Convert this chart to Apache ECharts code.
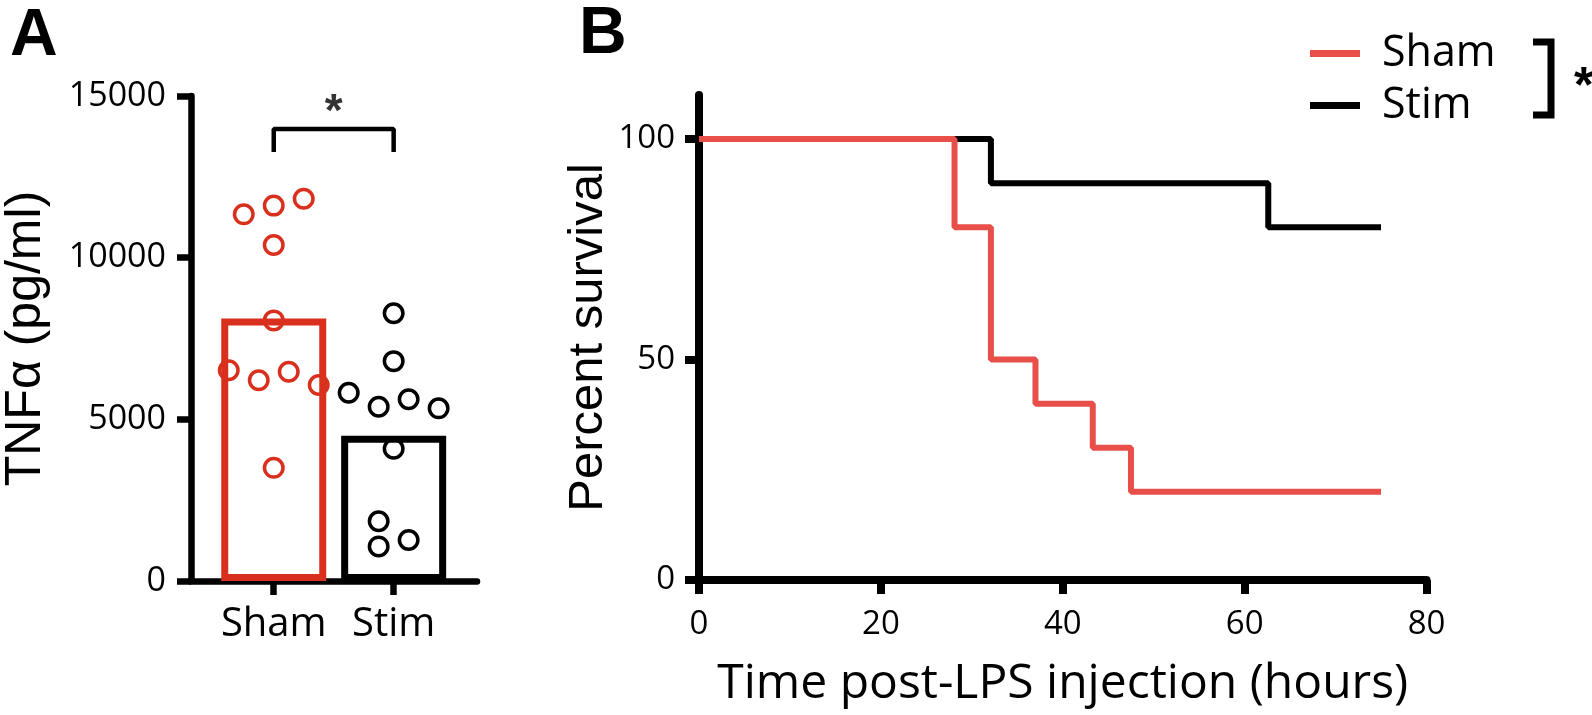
<!DOCTYPE html>
<html>
<head>
<meta charset="utf-8">
<script src="https://cdn.jsdelivr.net/npm/echarts@6/dist/echarts.min.js"></script>
<style>
html,body{margin:0;padding:0;background:#fff;}
#chart{width:1592px;height:715px;}
</style>
</head>
<body>
<div id="chart"></div>
<script>
// ---------- Panel A data ----------
const groups = ['Sham', 'Stim'];
const tnfTicks = [0, 5000, 10000, 15000];
const barMeans = [8120, 4490];
const shamTNF = [11340, 11610, 11820, 10390, 8060, 6520, 6210, 6470, 6060, 3500];
const shamJitter = [-0.25, 0, 0.25, 0, 0, -0.375, -0.125, 0.125, 0.375, 0];
const stimTNF = [8280, 6800, 5820, 5390, 5620, 5340, 4090, 1850, 1070, 1270];
const stimJitter = [0, 0, -0.375, -0.125, 0.125, 0.375, 0, -0.125, -0.125, 0.125];
const sigBracketA = [13270, 13980];
const sigStarA = 14450;

// ---------- Panel B data ----------
const timeTicks = [0, 20, 40, 60, 80];
const survTicks = [0, 50, 100];
const shamTime = [0, 28.1, 32.1, 37.0, 43.3, 47.5, 75];
const shamSurv = [100, 80, 50, 40, 30, 20, 20];
const stimTime = [0, 32.1, 62.6, 75];
const stimSurv = [100, 90, 80, 80];

const RED_A = '#d9301e';
const RED_B = '#e84f48';
const BLACK = '#000';

const chart = echarts.init(document.getElementById('chart'), null, {renderer: 'canvas'});

const zip = (xs, ys) => xs.map((x, i) => [x, ys[i]]);

const axisCommon = (w) => ({
  axisLine: {show: true, onZero: false, lineStyle: {color: BLACK, width: w}},
  splitLine: {show: false}
});

const option = {
  animation: false,
  backgroundColor: '#fff',
  grid: [
    {left: 190, top: 96, width: 287, height: 485},
    {left: 699, top: 95, width: 727.5, height: 485}
  ],
  xAxis: [
    Object.assign({
      gridIndex: 0, type: 'value', min: -0.69, max: 1.695,
      axisTick: {show: true, customValues: [0, 1], length: 14, lineStyle: {color: BLACK, width: 6.5}},
      axisLabel: {customValues: [0, 1], formatter: v => groups[Math.round(v)],
        fontFamily: 'Open Sans', fontSize: 40, color: BLACK, margin: 24}
    }, axisCommon(6.5)),
    Object.assign({
      gridIndex: 1, type: 'value', min: 0, max: 80, interval: 20,
      axisTick: {show: true, customValues: timeTicks, length: 14, lineStyle: {color: BLACK, width: 8}},
      axisLabel: {customValues: timeTicks, fontFamily: 'Open Sans', fontSize: 33, color: BLACK, margin: 28},
      name: 'Time post-LPS injection (hours)', nameLocation: 'middle', nameGap: 80,
      nameTextStyle: {fontFamily: 'Open Sans', fontSize: 48, color: BLACK}
    }, axisCommon(8))
  ],
  yAxis: [
    Object.assign({
      gridIndex: 0, type: 'value', min: 0, max: 15000, interval: 5000,
      axisTick: {show: true, customValues: tnfTicks, length: 14, lineStyle: {color: BLACK, width: 6.5}},
      axisLabel: {customValues: tnfTicks, formatter: v => String(v),
        fontFamily: 'Open Sans', fontSize: 34, color: BLACK, margin: 25},
      name: 'TNFα (pg/ml)', nameLocation: 'middle', nameGap: 140,
      nameTextStyle: {fontFamily: 'Liberation Sans', fontSize: 50, color: BLACK}
    }, axisCommon(6.5)),
    Object.assign({
      gridIndex: 1, type: 'value', min: 0, max: 110,
      axisTick: {show: true, customValues: survTicks, length: 14, lineStyle: {color: BLACK, width: 8}},
      axisLabel: {customValues: survTicks, fontFamily: 'Open Sans', fontSize: 33, color: BLACK, margin: 24},
      name: 'Percent survival', nameLocation: 'middle', nameGap: 86,
      nameTextStyle: {fontFamily: 'Liberation Sans', fontSize: 49, color: BLACK}
    }, axisCommon(8))
  ],
  legend: {
    data: ['Sham', 'Stim'],
    orient: 'vertical',
    left: 1305, top: 27,
    icon: 'rect', itemWidth: 50, itemHeight: 7, itemGap: 9,
    textStyle: {fontFamily: 'Open Sans', fontSize: 43, color: BLACK, padding: [0, 0, 0, 17]},
    selectedMode: false
  },
  series: [
    {
      name: 'TNF bars', type: 'bar', xAxisIndex: 0, yAxisIndex: 0,
      barWidth: 105,
      data: barMeans.map((v, i) => ({
        value: [i, v],
        itemStyle: {color: '#fff', borderColor: i === 0 ? RED_A : BLACK, borderWidth: 7}
      })),
      z: 2
    },
    {
      name: 'Sham pts', type: 'scatter', xAxisIndex: 0, yAxisIndex: 0,
      symbol: 'circle', symbolSize: 18.5,
      itemStyle: {color: 'rgba(255,255,255,0)', borderColor: RED_A, borderWidth: 3.5, opacity: 1},
      data: shamTNF.map((v, i) => [0 + shamJitter[i], v]), z: 4
    },
    {
      name: 'Stim pts', type: 'scatter', xAxisIndex: 0, yAxisIndex: 0,
      symbol: 'circle', symbolSize: 18.5,
      itemStyle: {color: 'rgba(255,255,255,0)', borderColor: BLACK, borderWidth: 3.5, opacity: 1},
      data: stimTNF.map((v, i) => [1 + stimJitter[i], v]), z: 4
    },
    {
      name: 'bracketA', type: 'line', xAxisIndex: 0, yAxisIndex: 0,
      symbol: 'none', lineStyle: {color: BLACK, width: 4.5},
      data: [[0, sigBracketA[0]], [0, sigBracketA[1]], [1, sigBracketA[1]], [1, sigBracketA[0]]],
      z: 3
    },
    {
      name: 'starA', type: 'scatter', xAxisIndex: 0, yAxisIndex: 0,
      symbol: 'circle', symbolSize: 1, itemStyle: {color: 'rgba(0,0,0,0)'},
      label: {show: true, position: 'inside', formatter: '*', fontFamily: 'Liberation Sans',
        fontWeight: 'bold', fontSize: 46, color: BLACK},
      data: [[0.5, sigStarA]], z: 5
    },
    {
      name: 'Stim', type: 'line', xAxisIndex: 1, yAxisIndex: 1,
      step: 'end', symbol: 'none', color: BLACK,
      lineStyle: {color: BLACK, width: 6},
      data: zip(stimTime, stimSurv), z: 3
    },
    {
      name: 'Sham', type: 'line', xAxisIndex: 1, yAxisIndex: 1,
      step: 'end', symbol: 'none', color: RED_B,
      lineStyle: {color: RED_B, width: 6},
      data: zip(shamTime, shamSurv), z: 4
    }
  ],
  graphic: [
    {type: 'text', left: 10, top: 4, style: {text: 'A', fontFamily: 'Liberation Sans', fontWeight: 'bold', fontSize: 66, fill: BLACK}},
    {type: 'text', left: 579, top: 2, style: {text: 'B', fontFamily: 'Liberation Sans', fontWeight: 'bold', fontSize: 66, fill: BLACK}},
    {type: 'polyline', shape: {points: [[1533, 42], [1551, 42], [1551, 115], [1533, 115]]},
      style: {stroke: BLACK, lineWidth: 7, fill: null}},
    {type: 'text', left: 1574, top: 63, style: {text: '*', fontFamily: 'Liberation Sans', fontWeight: 'bold', fontSize: 50, fill: BLACK}}
  ]
};

chart.setOption(option);
</script>
</body>
</html>
